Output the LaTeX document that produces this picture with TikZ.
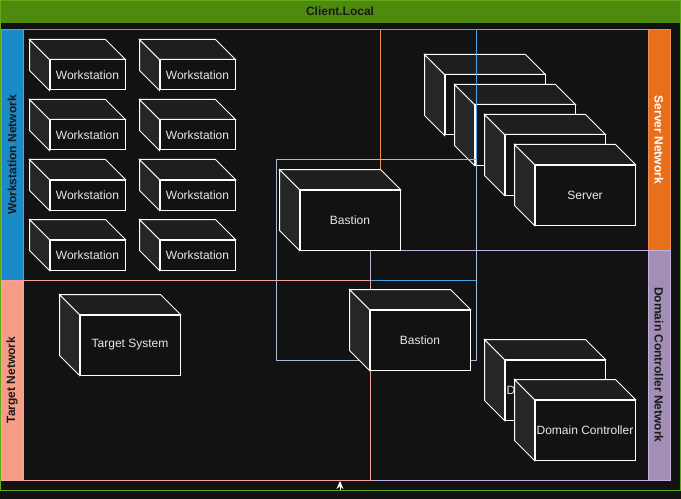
\documentclass[tikz,border=0pt]{standalone}
\usepackage{fontspec}
\setmainfont{Liberation Sans}
\usetikzlibrary{calc,arrows.meta}

\definecolor{bgdark}{HTML}{121212}
\definecolor{topgray}{HTML}{1E1E1E}
\definecolor{sidegray}{HTML}{262626}
\definecolor{boxtext}{HTML}{E8E8E8}
\definecolor{titledark}{HTML}{1A1A1A}
\definecolor{poolfill}{HTML}{4D8A0E}
\definecolor{poolline}{HTML}{60A917}
\definecolor{wsband}{HTML}{1B8AC9}
\definecolor{wsline}{HTML}{45A5E6}
\definecolor{srvband}{HTML}{E8701A}
\definecolor{srvline}{HTML}{F28B52}
\definecolor{dcband}{HTML}{A38FB5}
\definecolor{dcline}{HTML}{C3AEDC}
\definecolor{tgtband}{HTML}{F79C86}
\definecolor{tgtline}{HTML}{F4A3A0}
\definecolor{bastline}{HTML}{A9B9D2}

\tikzset{
    device/.style={rectangle, draw=white, line width=0.75pt, fill=bgdark, text=boxtext,
        inner sep=0pt, font=\fontsize{9}{11}\selectfont},
    wsbox/.style={device, minimum width=56.25pt, minimum height=22.5pt},
    bigbox/.style={device, minimum width=75pt, minimum height=45pt},
    topface/.style={draw=white, line width=0.75pt, fill=topgray},
    sideface/.style={draw=white, line width=0.75pt, fill=sidegray},
    lane/.style={line width=0.75pt},
    lanetitle/.style={font=\bfseries\fontsize{9}{11}\selectfont, text=titledark, inner sep=0pt},
    link/.style={draw=white, line width=0.75pt, -{Stealth[length=6pt, width=5.25pt]}}
}

\newcommand{\cubefaces}[1]{%
    \filldraw[sideface] (#1.north west) -- ($(#1.north west)+(-20,-20)$)
        -- ($(#1.south west)+(-20,-20)$) -- (#1.south west) -- cycle;
    \filldraw[topface] (#1.north west) -- ($(#1.north west)+(-20,-20)$)
        -- ($(#1.north east)+(-20,-20)$) -- (#1.north east) -- cycle;
}

\begin{document}
\begin{tikzpicture}[x=0.75pt, y=-0.75pt]
                \useasboundingbox (0,0) rectangle (681,499);
                \fill[bgdark] (0,0) rectangle (681,499);
                \fill[poolfill] (0,0) rectangle (680.5,23);
                \draw[lane, poolline] (0.5,0.5) rectangle (680,490.5);
                \node[lanetitle] (pooltitle) at (340,11.5) {Client.Local};

                \filldraw[lane, fill=srvband, draw=srvline] (648,30) rectangle (670,250);
                \draw[lane, srvline] (380,30) rectangle (670,250);
                \node[lanetitle, text=white, rotate=-90] (srvtitle) at (659,140) {Server Network};
                \filldraw[lane, fill=dcband, draw=dcline] (648,250) rectangle (670,480);
                \draw[lane, dcline] (370,250) rectangle (670,480);
                \node[lanetitle, rotate=-90] (dctitle) at (659,365) {Domain Controller Network};

                \node[bigbox] (srvA) at (495,105) {}; \cubefaces{srvA}
                \node[bigbox] (srvB) at (525,135) {}; \cubefaces{srvB}
                \node[bigbox] (srvC) at (555,165) {}; \cubefaces{srvC}
                \node[bigbox] (srvD) at (585,195) {Server}; \cubefaces{srvD}

                \filldraw[lane, fill=wsband, draw=wsline] (1,30) rectangle (23,280);
                \draw[lane, wsline] (1,30) rectangle (476,280);
                \node[lanetitle, rotate=90] (wstitle) at (12,155) {Workstation Network};
                \filldraw[lane, fill=tgtband, draw=tgtline] (1,280) rectangle (23,480);
                \draw[lane, tgtline] (1,280) rectangle (370,480);
                \node[lanetitle, rotate=90] (tgttitle) at (12,380) {Target Network};
                \draw[lane, bastline] (276.5,160) rectangle (476.5,360);

                \node[wsbox] (wsA) at (87.5,75) {Workstation}; \cubefaces{wsA}
                \node[wsbox] (wsB) at (197.5,75) {Workstation}; \cubefaces{wsB}
                \node[wsbox] (wsC) at (87.5,135) {Workstation}; \cubefaces{wsC}
                \node[wsbox] (wsD) at (197.5,135) {Workstation}; \cubefaces{wsD}
                \node[wsbox] (wsE) at (87.5,195) {Workstation}; \cubefaces{wsE}
                \node[wsbox] (wsF) at (197.5,195) {Workstation}; \cubefaces{wsF}
                \node[wsbox] (wsG) at (87.5,255) {Workstation}; \cubefaces{wsG}
                \node[wsbox] (wsH) at (197.5,255) {Workstation}; \cubefaces{wsH}

                \node[bigbox] (bastionA) at (350,220) {Bastion}; \cubefaces{bastionA}
                \node[bigbox] (bastionB) at (420,340) {Bastion}; \cubefaces{bastionB}
                \node[bigbox] (target) at (130,345) {Target System}; \cubefaces{target}
                \node[bigbox] (dcA) at (555,390) {Domain Controller}; \cubefaces{dcA}
                \node[bigbox] (dcB) at (585,430) {Domain Controller}; \cubefaces{dcB}

                \coordinate (linkfoot) at (340,490);
                \coordinate (linktip) at (340,481);
                \draw[link] (linkfoot) -- (linktip);
\end{tikzpicture}
\end{document}
